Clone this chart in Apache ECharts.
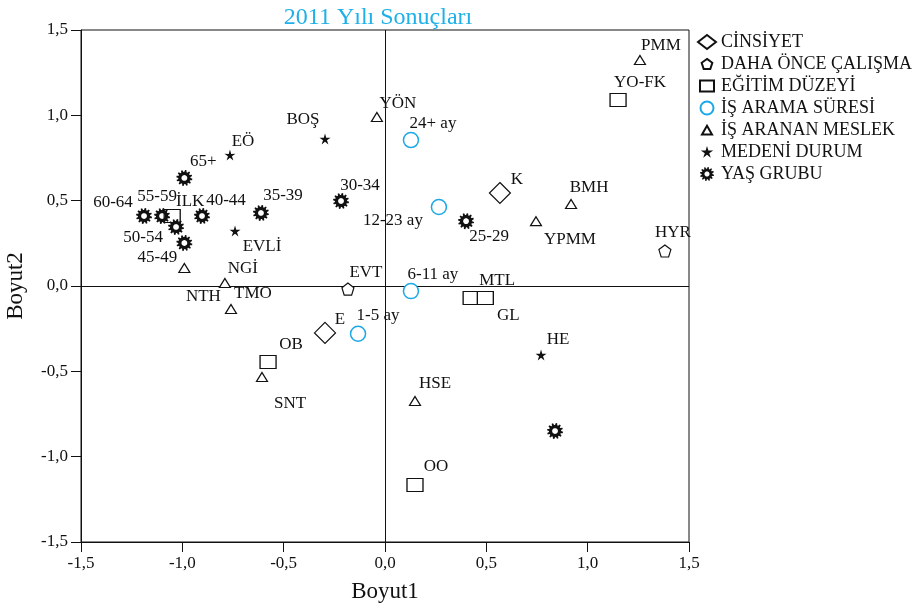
<!DOCTYPE html>
<html><head><meta charset="utf-8">
<script src="https://cdn.jsdelivr.net/npm/echarts@6/dist/echarts.min.js"></script>
<style>html,body{margin:0;padding:0;background:#fff}#c{width:922px;height:610px}</style>
</head><body><div id="c"></div>
<script>
// ---- Data ----
const xTicks = [-1.5, -1.0, -0.5, 0, 0.5, 1.0, 1.5];
const yTicks = [-1.5, -1.0, -0.5, 0, 0.5, 1.0, 1.5];
const cinsiyet = [[0.567, 0.545, 'K'], [-0.296, -0.275, 'E']];
const dahaOnce = [[-0.183, -0.018, 'EVT'], [1.381, 0.205, 'HYR']];
const egitim = [[1.15, 1.09, 'YO-FK'], [0.148, -1.166, 'OO'], [-0.577, -0.445, 'OB'], [-1.05, 0.41, 'İLK'], [0.425, -0.07, 'MTL'], [0.495, -0.07, 'GL']];
const aramaSuresi = [[0.128, 0.855, '24+ ay'], [0.266, 0.463, '12-23 ay'], [0.128, -0.03, '6-11 ay'], [-0.133, -0.28, '1-5 ay']];
const arananMeslek = [[1.258, 1.324, 'PMM'], [-0.04, 0.99, 'YÖN'], [0.918, 0.48, 'BMH'], [0.745, 0.38, 'YPMM'], [-0.79, 0.018, 'NGİ'], [-0.99, 0.105, 'NTH'], [-0.76, -0.135, 'TMO'], [0.148, -0.674, 'HSE'], [-0.607, -0.533, 'SNT']];
const medeni = [[-0.765, 0.767, 'EÖ'], [-0.296, 0.861, 'BOŞ'], [-0.74, 0.322, 'EVLİ'], [0.77, -0.404, 'HE']];
const yasGrubu = [[-0.99, 0.633, '65+'], [-1.189, 0.41, '60-64'], [-1.10, 0.41, '55-59'], [-1.031, 0.346, '50-54'], [-0.903, 0.41, '40-44'], [-0.99, 0.252, '45-49'], [-0.612, 0.428, '35-39'], [-0.217, 0.498, '30-34'], [0.40, 0.38, '25-29'], [0.839, -0.85, '']];

// ---- Label placement (pixel offsets of label centre from marker) ----
const labelOffsets = {
  'K':[17,-13],'E':[15,-13],'EVT':[18,-17],'HYR':[8,-18],'YO-FK':[22,-17],'OO':[21,-18],'OB':[23,-17],
  'İLK':[18,-14],'MTL':[26,-17],'GL':[23,18],'24+ ay':[22,-17],'12-23 ay':[-46,14],'6-11 ay':[22,-17],
  '1-5 ay':[20,-18],'PMM':[21,-15],'YÖN':[21,-14],'BMH':[18,-17],'YPMM':[34,18],'NGİ':[18,-14],
  'NTH':[19,28],'TMO':[22,-16],'HSE':[20,-17],'SNT':[28,27],'EÖ':[13,-14],'BOŞ':[-22,-20],'EVLİ':[27,15],
  'HE':[17,-15],'65+':[19,-16],'60-64':[-31,-13],'55-59':[-5,-19],'50-54':[-33,11],'40-44':[24,-15],
  '45-49':[-27,15],'35-39':[22,-17],'30-34':[19,-15],'25-29':[23,15]
};

// ---- Symbols ----
function f(n){ return n.toFixed(2); }
function gearPath(){
  const n = 12, ro = 10, ri = 7.6, rh = 3.6;
  let pts = [];
  const step = 2 * Math.PI / n;
  for (let i = 0; i < n; i++) {
    const a0 = i * step;
    pts.push([ri, a0], [ro, a0 + step * 0.18], [ro, a0 + step * 0.52], [ri, a0 + step * 0.7]);
  }
  let d = pts.map((p, i) => (i ? 'L' : 'M') + f(10 + p[0] * Math.cos(p[1])) + ' ' + f(10 + p[0] * Math.sin(p[1]))).join(' ') + ' Z ';
  let h = [];
  for (let i = 0; i <= 24; i++) {
    const a = -i / 24 * 2 * Math.PI;
    h.push((i ? 'L' : 'M') + f(10 + rh * Math.cos(a)) + ' ' + f(10 + rh * Math.sin(a)));
  }
  return 'path://' + d + h.join(' ') + ' Z';
}
// star / pentagon with centre (cx,cy) and radius r; optional padding box for legend icons
function starD(cx, cy, r){
  let s = [];
  for (let i = 0; i < 10; i++) {
    const rr = i % 2 ? r * 0.36 : r;
    const a = -Math.PI / 2 + i * Math.PI / 5;
    s.push((i ? 'L' : 'M') + f(cx + rr * Math.cos(a)) + ' ' + f(cy + rr * Math.sin(a)));
  }
  return s.join(' ') + ' Z';
}
function pentD(cx, cy, r){
  let s = [];
  for (let i = 0; i < 5; i++) {
    const a = -Math.PI / 2 + i * 2 * Math.PI / 5;
    s.push((i ? 'L' : 'M') + f(cx + r * Math.cos(a)) + ' ' + f(cy + r * Math.sin(a)));
  }
  return s.join(' ') + ' Z';
}
const PAD = 'M0 0 M18 14 ';
const legendIcons = {
  'DAHA ÖNCE ÇALIŞMA': 'path://' + PAD + pentD(9, 7.5, 5.6),
  'İŞ ARANAN MESLEK': 'path://' + PAD + 'M4 11.5 L9 2.8 L14 11.5 Z',
  'MEDENİ DURUM': 'path://' + PAD + starD(9, 7.5, 6.5),
  'EĞİTİM DÜZEYİ': 'path://' + PAD + 'M2 1.5 L16 1.5 L16 12.5 L2 12.5 Z',
  'İŞ ARAMA SÜRESİ': 'path://' + PAD + 'M15.5 7 A6.5 6.5 0 1 1 2.5 7 A6.5 6.5 0 1 1 15.5 7 Z'
};

const FONT = 'Liberation Serif';
const INK = '#111';
function mk(name, arr, symbol, size, itemStyle){
  return {
    name, type: 'scatter', symbol, symbolSize: size, itemStyle: Object.assign({ opacity: 1 }, itemStyle),
    data: arr.map(d => ({ value: [d[0], d[1]], name: d[2],
      label: { show: d[2] !== '', position: 'inside', offset: labelOffsets[d[2]] || [0,0],
        color: INK, textBorderWidth: 0, fontFamily: FONT, fontSize: 17 } })),
    label: { show: true, formatter: p => p.name, color: INK, textBorderWidth: 0, fontFamily: FONT, fontSize: 17 },
    emphasis: { disabled: true }, z: 3
  };
}
const outline = { color: '#fff', borderColor: INK, borderWidth: 1.2 };

const series = [
  mk('CİNSİYET', cinsiyet, 'diamond', [21, 21], outline),
  mk('DAHA ÖNCE ÇALIŞMA', dahaOnce, 'path://' + pentD(10, 10, 10), [12, 12], outline),
  mk('EĞİTİM DÜZEYİ', egitim, 'rect', [16, 13], outline),
  mk('İŞ ARAMA SÜRESİ', aramaSuresi, 'circle', 15, { color: '#fff', borderColor: '#1ba8e6', borderWidth: 1.5 }),
  mk('İŞ ARANAN MESLEK', arananMeslek, 'triangle', [11, 9], outline),
  mk('MEDENİ DURUM', medeni, 'path://' + starD(10, 10, 10), [11, 11], { color: INK }),
  mk('YAŞ GRUBU', yasGrubu, gearPath(), [16, 16], { color: INK })
];
series[0].markLine = {
  silent: true, symbol: 'none', label: { show: false },
  lineStyle: { color: INK, width: 1, type: 'solid' },
  data: [{ xAxis: 0 }, { yAxis: 0 }], z: 1
};

const fmt = v => (Math.abs(v) < 1e-9 ? '0,0' : v.toFixed(1).replace('.', ','));
const chart = echarts.init(document.getElementById('c'), null, { renderer: 'canvas' });
chart.setOption({
  animation: false,
  backgroundColor: '#fff',
  title: { text: '2011 Yılı Sonuçları', left: 373, top: 1, textAlign: 'center',
    textStyle: { color: '#1fb0e8', fontFamily: FONT, fontSize: 24, fontWeight: 'normal' } },
  grid: { left: 81, right: 233, top: 30, bottom: 68, show: true, borderColor: INK, borderWidth: 1,
    containLabel: false, outerBoundsMode: 'none' },
  legend: {
    orient: 'vertical', left: 692, top: 28, itemGap: 4, itemWidth: 18, itemHeight: 14,
    textStyle: { fontFamily: FONT, fontSize: 18, color: INK },
    data: series.map(s => legendIcons[s.name] ? { name: s.name, icon: legendIcons[s.name] } : s.name)
  },
  xAxis: {
    type: 'value', min: xTicks[0], max: xTicks[xTicks.length - 1], interval: 0.5,
    name: 'Boyut1', nameLocation: 'middle', nameGap: 38,
    nameTextStyle: { fontFamily: FONT, fontSize: 23, color: INK },
    axisLine: { show: true, onZero: false, lineStyle: { color: INK } },
    axisTick: { show: true, length: 10, lineStyle: { color: INK } },
    axisLabel: { fontFamily: FONT, fontSize: 17, color: INK, margin: 13, formatter: fmt },
    splitLine: { show: false }
  },
  yAxis: {
    type: 'value', min: yTicks[0], max: yTicks[yTicks.length - 1], interval: 0.5,
    name: 'Boyut2', nameLocation: 'middle', nameGap: 54,
    nameTextStyle: { fontFamily: FONT, fontSize: 23, color: INK },
    axisLine: { show: true, onZero: false, lineStyle: { color: INK } },
    axisTick: { show: true, length: 10, lineStyle: { color: INK } },
    axisLabel: { fontFamily: FONT, fontSize: 17, color: INK, margin: 13, formatter: fmt },
    splitLine: { show: false }
  },
  series
});
</script>
</body></html>
